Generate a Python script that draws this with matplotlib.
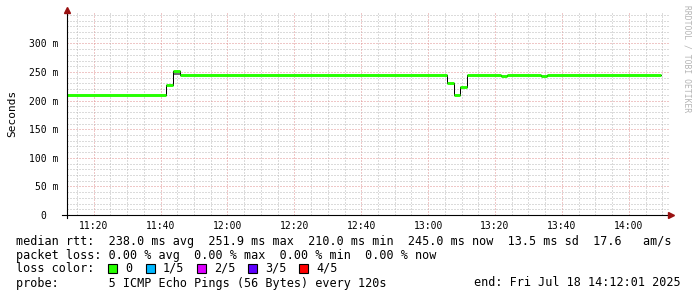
import matplotlib
matplotlib.use('Agg')
import matplotlib.pyplot as plt
from matplotlib.patches import Rectangle

W, H = 697, 297

def to_min(s):
    # "HH:MM[:SS]" -> minutes since midnight
    parts = [int(v) for v in s.split(':')]
    if len(parts) == 2:
        parts.append(0)
    return parts[0] * 60 + parts[1] + parts[2] / 60.0

# graph window
t_start = "11:12:01"
t_end = "14:12:01"

# median rtt, one value per step (ms)
step_start = ["11:12:01", "11:41:40", "11:43:40", "11:45:40", "13:05:40", "13:07:40",
              "13:09:40", "13:11:40", "13:21:40", "13:23:40", "13:33:40", "13:35:40"]
step_last = "14:09:40"
median_ms = [210.0, 228.0, 251.9, 245.0, 231.5, 210.5, 224.5, 245.0, 243.5, 245.0, 243.5, 245.0]

# smoke (spread of the single pings), only visible once
smoke_start = ["11:43:40"]
smoke_end = ["11:45:40"]
smoke_lo = [244.0]
smoke_hi = [251.9]

x_ticks = ["11:20", "11:40", "12:00", "12:20", "12:40", "13:00", "13:20", "13:40", "14:00"]
y_ticks = [0, 50, 100, 150, 200, 250, 300]
y_labels = ["0  ", "50 m", "100 m", "150 m", "200 m", "250 m", "300 m"]

loss_names = ["0", "1/5", "2/5", "3/5", "4/5"]
loss_colors = ["#26ff00", "#00b8ff", "#dd00ff", "#5e00ff", "#ff0000"]

legend_lines = [
    "median rtt:  238.0 ms avg  251.9 ms max  210.0 ms min  245.0 ms now  13.5 ms sd  17.6   am/s",
    "packet loss: 0.00 % avg  0.00 % max  0.00 % min  0.00 % now",
    "loss color:",
    "probe:       5 ICMP Echo Pings (56 Bytes) every 120s",
]
end_text = "end: Fri Jul 18 14:12:01 2025"

mono = 'DejaVu Sans Mono'
plt.rcParams['font.family'] = mono

fig = plt.figure(figsize=(W / 100, H / 100), dpi=100)
fig.patch.set_facecolor('white')
ax = fig.add_axes([67 / W, 1 - 215 / H, 602 / W, 203 / H])
ax.set_facecolor('white')

x0, x1 = to_min(t_start), to_min(t_end)
ax.set_xlim(x0, x1)
ax.set_ylim(0, 355)

# grid: minor 5 min / 10 ms grey, major 20 min / 50 ms red
ax.set_xticks([to_min(t) for t in x_ticks])
ax.set_xticklabels(x_ticks)
ax.set_xticks([to_min("11:15") + 5 * i for i in range(36) if to_min("11:15") + 5 * i < x1], minor=True)
ax.set_yticks(y_ticks)
ax.set_yticklabels(y_labels)
ax.set_yticks(range(0, 351, 10), minor=True)
ax.grid(which='minor', color='#b8b8b8', ls=(0, (1, 2)), lw=0.72)
ax.grid(which='major', color='#e09090', ls=(0, (1, 2)), lw=0.72)
ax.set_axisbelow(True)
ax.tick_params(which='both', length=0, labelsize=7, pad=4)
ax.tick_params(axis='y', pad=6)

for s in ax.spines.values():
    s.set_visible(False)

# smoke
for a, b, lo, hi in zip(smoke_start, smoke_end, smoke_lo, smoke_hi):
    ax.fill_between([to_min(a), to_min(b)], lo, hi, color='#707070', lw=0, zorder=2)

# median: black step line, loss coloured bars on top
xs = [to_min(t) for t in step_start] + [to_min(step_last)]
ys = median_ms + [median_ms[-1]]
ax.step(xs, ys, where='post', color='black', lw=0.72, zorder=3)
ax.hlines(median_ms, xs[:-1], xs[1:], color=loss_colors[0], lw=2.1, zorder=4)

# axis lines with arrows
ax.plot([-5 / 602, 1.0], [0, 0], transform=ax.transAxes, color='black', lw=0.8, clip_on=False, zorder=5)
ax.plot([0, 0], [-3 / 203, 1.0], transform=ax.transAxes, color='black', lw=0.8, clip_on=False, zorder=5)
ax.plot([1 + 2 / 602], [0], marker='>', ms=4.5, color='#991111', transform=ax.transAxes, clip_on=False, zorder=6)
ax.plot([0], [1 + 2 / 203], marker='^', ms=4.5, color='#991111', transform=ax.transAxes, clip_on=False, zorder=6)

ax.set_ylabel("Seconds", fontsize=8)
ax.yaxis.set_label_coords(-50 / 602, 0.5)

# watermark
fig.text(687 / W, 1 - 59 / H, "RRDTOOL / TOBI OETIKER", rotation=270, fontsize=5.8,
         color='#b4b4b4', ha='center', va='center')

# legend block
for line, y in zip(legend_lines, [241, 255, 268, 283]):
    fig.text(16 / W, 1 - y / H, line, fontsize=8.5, ha='left', va='center')
fig.text(681 / W, 1 - 283 / H, end_text, fontsize=8.5, ha='right', va='center')

box_x = [108, 146, 197, 248, 299]
for bx, name, col in zip(box_x, loss_names, loss_colors):
    fig.add_artist(Rectangle((bx / W, 1 - 273 / H), 9 / W, 9 / H, transform=fig.transFigure,
                             facecolor=col, edgecolor='black', lw=0.8))
    fig.text((bx + 17) / W, 1 - 268 / H, name, fontsize=8.5, ha='left', va='center')

fig.savefig("out.png", dpi=100, facecolor='white')
